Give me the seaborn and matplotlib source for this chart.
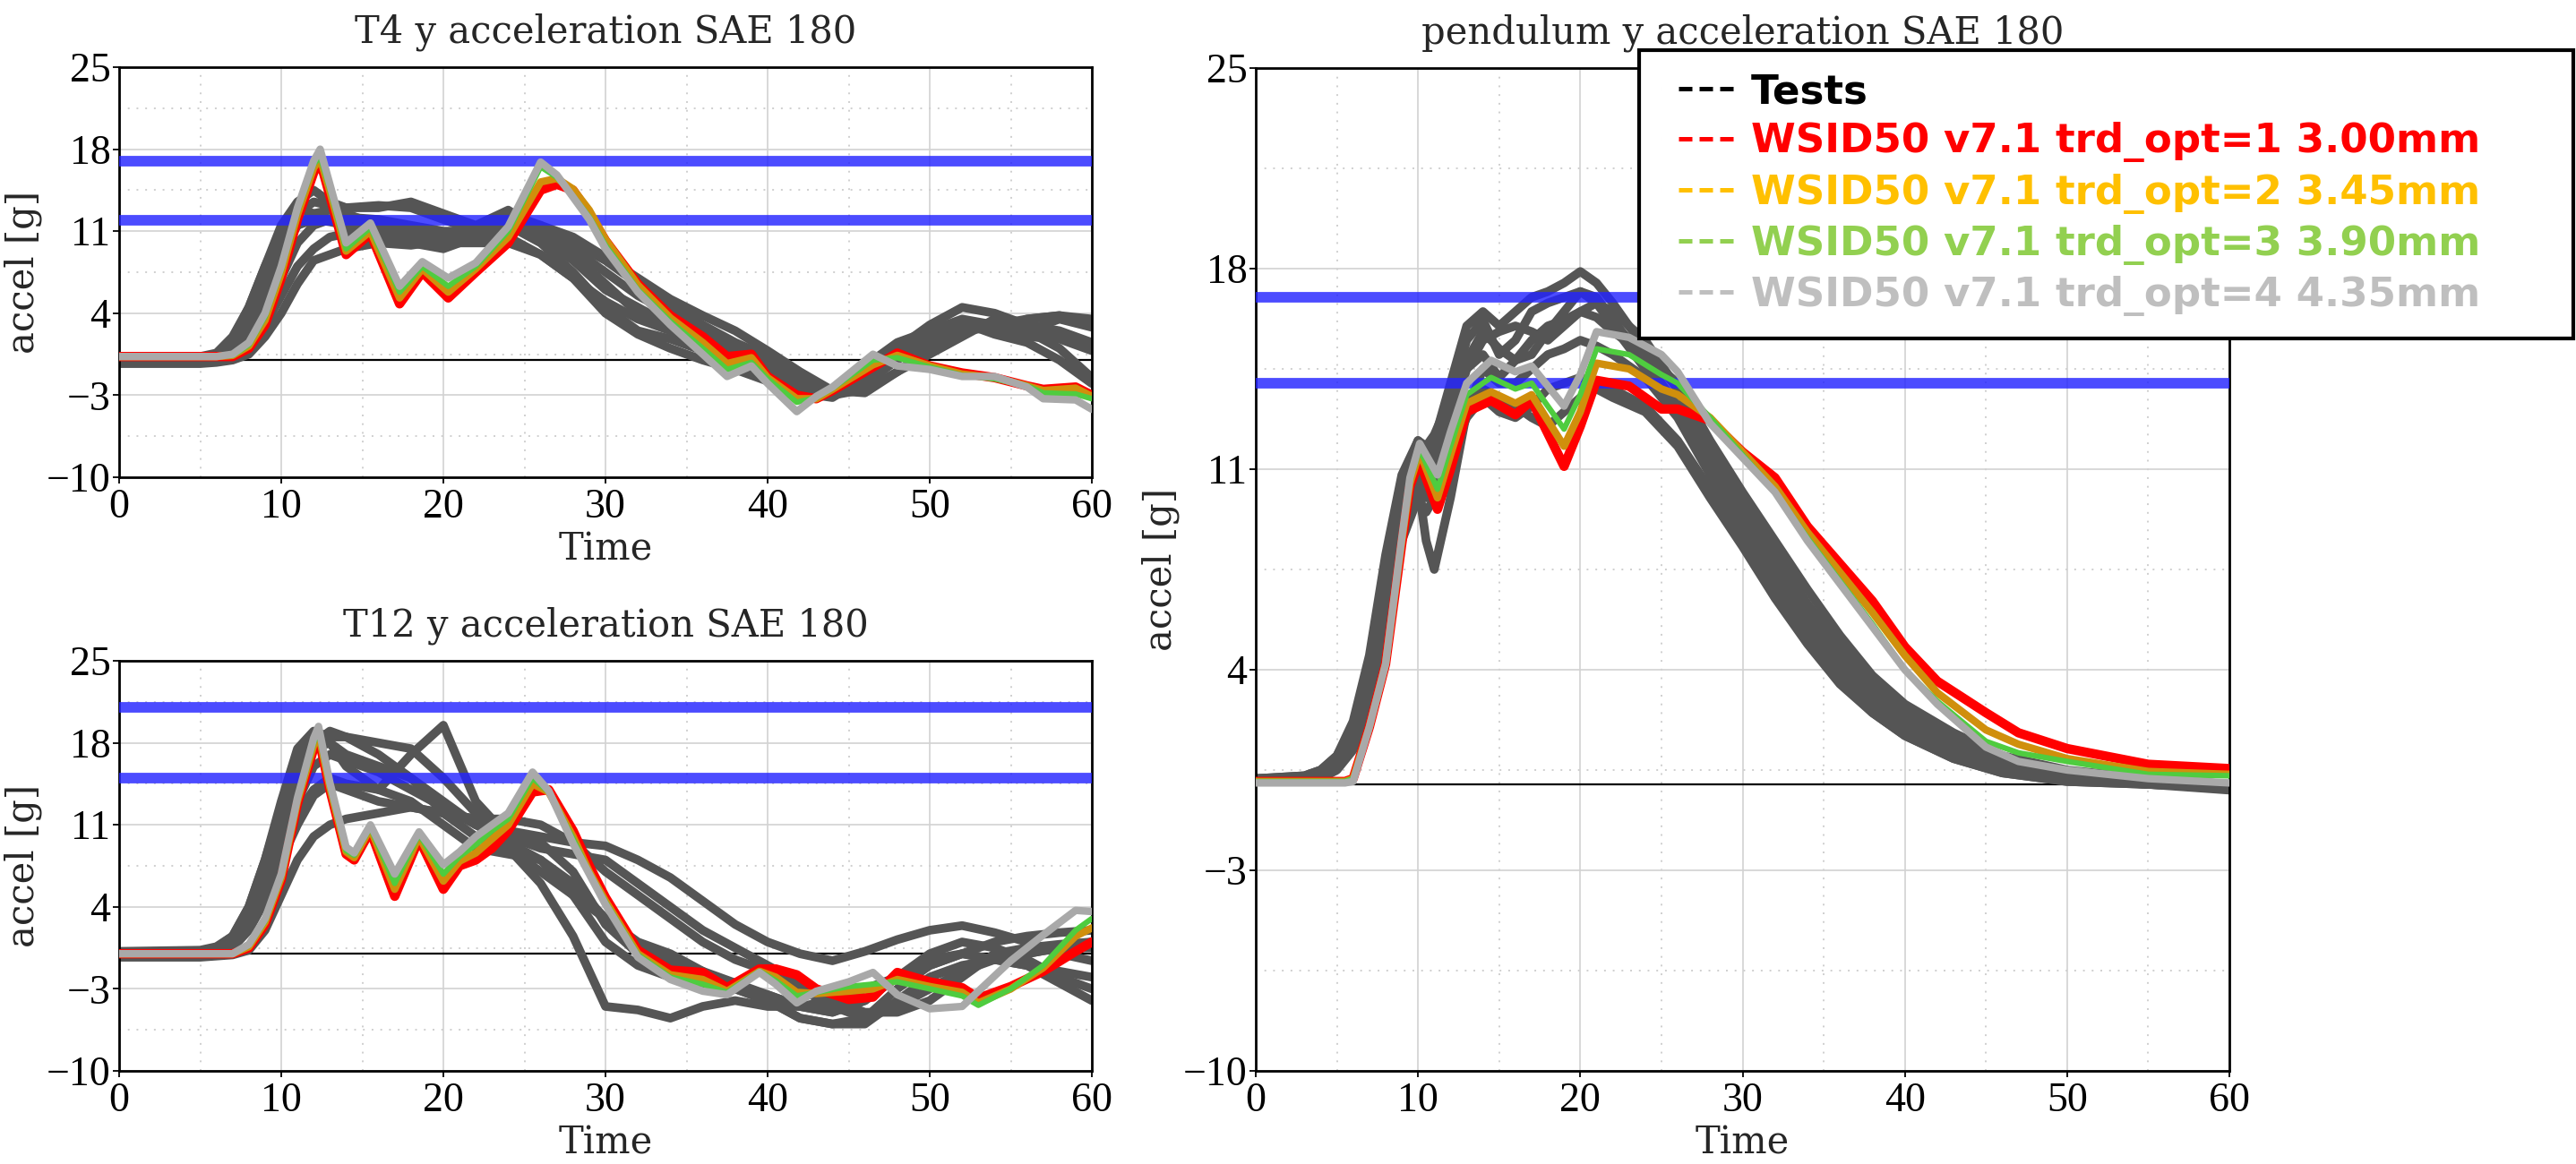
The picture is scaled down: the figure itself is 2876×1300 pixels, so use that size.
import numpy as np
import pandas as pd
import matplotlib.pyplot as plt
import seaborn as sns
from matplotlib.lines import Line2D
from matplotlib.ticker import MultipleLocator

# ---------------- data ----------------
x_ticks = [0, 10, 20, 30, 40, 50, 60]
y_ticks = [-10, -3, 4, 11, 18, 25]
y_minor = [-6.5, 0.5, 7.5, 14.5, 21.5]

legend_labels = ['Tests',
                 'WSID50 v7.1 trd_opt=1 3.00mm',
                 'WSID50 v7.1 trd_opt=2 3.45mm',
                 'WSID50 v7.1 trd_opt=3 3.90mm',
                 'WSID50 v7.1 trd_opt=4 4.35mm']

# time grid for the test curves of T4 / T12
t_test = [0, 5, 6, 7, 8, 9, 10, 11, 12, 13, 14, 16, 18, 20, 22, 24, 26, 28, 30, 32,
          34, 36, 38, 40, 42, 44, 46, 48, 50, 52, 54, 56, 58, 60]

# ---- T4 ----
t4_limits = [17, 11.9]
t4_tests = [
    [0.2, 0.3, 0.6, 2.0, 4.5, 8.0, 11.5, 13.5, 14.5, 13.5, 13.0, 13.2, 13.0, 12.0, 11.0, 11.5, 10.0, 7.5, 4.5, 2.5,
     1.8, 0.8, -0.5, -1.5, -2.6, -2.8, -1.0, 1.0, 3.0, 4.5, 4.0, 3.0, 2.5, 1.5],
    [0.1, 0.2, 0.4, 1.5, 3.5, 7.0, 10.5, 12.5, 13.5, 13.2, 13.0, 13.0, 13.5, 12.5, 11.5, 12.8, 11.0, 9.0, 6.5, 4.0,
     2.8, 1.5, 0.2, -1.0, -2.2, -2.5, -0.5, 1.5, 2.5, 3.5, 3.0, 2.5, 3.5, 2.8],
    [0.0, 0.1, 0.2, 0.8, 2.5, 5.5, 9.0, 11.5, 12.5, 12.8, 12.2, 12.0, 11.5, 11.0, 11.0, 12.5, 11.5, 9.5, 7.5, 5.5,
     4.0, 2.8, 1.2, -0.2, -1.8, -2.8, -1.8, 0.5, 2.0, 3.0, 2.5, 3.5, 3.8, 3.0],
    [0.0, 0.0, 0.1, 0.4, 1.5, 4.0, 7.0, 10.0, 11.5, 12.0, 11.5, 11.5, 11.0, 10.0, 10.5, 12.0, 11.5, 10.5, 8.8, 7.0,
     5.2, 3.8, 2.5, 0.8, -1.0, -2.6, -2.8, -1.0, 1.0, 2.5, 2.8, 2.5, 1.0, -1.5],
    [-0.2, -0.2, -0.1, 0.2, 1.0, 3.0, 5.5, 8.0, 9.5, 10.5, 10.8, 10.5, 10.0, 9.5, 10.5, 11.5, 11.0, 10.0, 8.5, 6.5,
     4.8, 3.0, 1.5, 0.3, -1.5, -2.7, -2.0, 0.0, 2.0, 3.2, 2.2, 1.5, 0.0, -2.0],
    [-0.3, -0.3, -0.2, 0.0, 0.5, 2.0, 4.0, 6.5, 8.5, 9.0, 9.5, 10.0, 9.8, 10.2, 10.5, 10.5, 9.0, 7.0, 5.0, 3.5,
     2.5, 1.5, 0.5, -0.8, -2.0, -3.0, -2.5, -1.0, 0.5, 2.0, 3.5, 3.0, 2.0, 1.0],
    [0.1, 0.2, 0.5, 1.8, 4.5, 8.0, 11.0, 13.0, 12.5, 12.0, 12.5, 11.5, 10.5, 10.0, 10.0, 10.0, 9.0, 7.0, 4.0, 2.2,
     1.0, 0.0, -0.8, -1.8, -2.8, -3.2, -1.5, 0.5, 2.5, 3.0, 2.5, 2.0, 1.8, 0.8],
    [0.0, 0.1, 0.3, 1.0, 3.0, 6.5, 9.5, 11.5, 12.0, 11.8, 11.5, 11.0, 10.5, 10.8, 11.0, 11.5, 10.5, 8.5, 6.0, 4.5,
     3.0, 2.0, 1.0, -0.5, -2.0, -2.5, -1.5, 0.2, 1.5, 2.5, 3.0, 3.5, 3.8, 3.5],
]
t4_time = [0, 6, 7, 8, 9, 10, 11, 12, 12.4, 13, 14, 15.5, 17.3, 18.7, 20.3, 22, 24, 26, 27, 28,
           29, 30, 32, 34, 36, 37.5, 39, 40, 41.8, 43, 44, 46.5, 48, 50, 52, 54, 56, 57, 59, 60]
t4_opt1 = [0.3, 0.3, 0.3, 1.0, 3.0, 7.0, 12.0, 16.0, 17.0, 14.0, 9.0, 10.8, 4.8, 7.5, 5.3, 7.5, 10.0, 14.5, 15.0, 14.5,
           12.5, 10.2, 6.5, 3.8, 2.0, 0.3, 0.5, -1.4, -3.0, -3.3, -2.6, -0.6, 0.6, -0.5, -1.1, -1.5, -2.2, -2.5, -2.3, -3.0]
t4_opt2 = [0.3, 0.3, 0.4, 1.2, 3.4, 7.4, 12.4, 16.4, 17.2, 14.4, 9.3, 11.0, 5.3, 7.8, 5.8, 7.8, 10.5, 15.2, 15.5, 14.6,
           12.8, 10.3, 6.4, 3.6, 1.5, -0.3, 0.2, -1.5, -3.3, -3.3, -2.5, -0.4, 0.4, -0.5, -1.2, -1.5, -2.2, -2.6, -2.4, -3.1]
t4_opt3 = [0.3, 0.3, 0.4, 1.3, 3.7, 7.7, 12.7, 16.7, 17.4, 14.6, 9.5, 11.3, 5.8, 8.0, 6.3, 8.0, 11.0, 16.5, 15.6, 14.0,
           12.2, 9.8, 6.0, 3.3, 1.0, -0.8, -0.2, -1.6, -3.6, -3.2, -2.4, 0.0, 0.2, -0.6, -1.3, -1.6, -2.2, -2.8, -2.9, -3.3]
t4_opt4 = [0.3, 0.3, 0.5, 1.5, 4.0, 8.0, 13.0, 17.0, 18.0, 15.0, 10.0, 11.7, 6.3, 8.4, 7.0, 8.3, 11.4, 16.9, 15.8, 13.9,
           12.0, 9.5, 5.8, 3.0, 0.5, -1.4, -0.5, -2.0, -4.4, -3.1, -2.3, 0.5, -0.5, -0.8, -1.4, -1.4, -2.3, -3.3, -3.4, -4.2]

# ---- T12 ----
t12_limits = [21, 15]
t12_tests = [
    [0.2, 0.3, 0.6, 1.5, 4, 8, 13, 17.5, 19, 18.5, 18.5, 18, 17.5, 15, 12, 9, 7, 5, 3, 1,
     0, -1.5, -3, -4, -5.5, -6, -5.5, -3, -1, 0, -0.5, -1, -2.5, -4],
    [0.0, 0.2, 0.5, 1.2, 3, 6, 10, 14, 17.5, 18, 16, 14, 17, 19.5, 13, 10, 9, 8.5, 8, 6,
     4, 2, 0.5, -1, -2.5, -4, -5, -5, -4, -2, 0, 0.5, 0.8, 1],
    [0, 0.1, 0.3, 0.8, 2, 4.5, 8, 11, 13.5, 14.5, 14, 13, 12.5, 12, 11.5, 10.5, 10, 9.5, 9.2, 8,
     6.5, 4.5, 2.5, 1.0, 0.0, -0.6, 0.2, 1.2, 2.0, 2.4, 1.8, 1.0, 0.0, -0.6],
    [0, 0.1, 0.4, 1.2, 3.5, 7, 11, 15, 18, 19, 18.5, 17, 15, 12, 10, 9, 6, 1.5, -4.5, -4.8,
     -5.5, -4.5, -4, -4.5, -4.5, -4, -3, -2, -1, 0, 1, 1.5, 1.8, 2],
    [0, 0, 0.2, 0.8, 2.5, 5.5, 9, 12, 14, 15, 14.5, 14, 13, 11, 9, 8.5, 8, 5, 1, -1,
     -2, -2.5, -3, -4, -5.5, -6, -6, -4, -2, -1, -0.5, 0, 0.5, 1],
    [-0.2, -0.2, 0, 0.5, 2, 5, 9, 13, 16, 17, 16.5, 15.5, 14, 12.5, 11, 10.5, 9.5, 7, 2.5, 0,
     -1, -2, -3, -3.5, -4.5, -5, -4, -2, -0.5, 0, -0.5, -1, -1.5, -2],
    [-0.3, -0.3, -0.2, -0.1, 0.3, 2, 5, 8, 10, 11, 11.5, 12, 12.5, 12, 11.5, 11.5, 11, 9.5, 7, 5,
     3, 1, -0.5, -1.5, -3, -4.5, -5.5, -4.5, -3, -1.5, -0.5, 0, 0.5, 0.5],
    [0.1, 0.2, 0.5, 1.5, 4, 8, 12.5, 16.5, 18.5, 18, 17, 16, 15, 13, 11, 9.5, 8, 6, 3, 0.5,
     -0.5, -1.5, -2.5, -3.5, -4.5, -5, -4, -2, 0, 1, 0.5, -0.5, -2, -3],
]
t12_time = [0, 7, 8, 9, 10, 11, 12, 12.3, 13, 14, 14.5, 15.5, 17, 18.5, 20, 21, 22, 23, 24, 25.5,
            26.5, 28, 29, 30, 32, 34, 36, 37.5, 39.5, 40.5, 41.8, 43, 45, 46.5, 48, 50, 52, 53, 55, 57, 59, 60]
t12_opt1 = [0.0, 0.0, 0.5, 2.5, 6.3, 12.8, 17.5, 18.5, 14.0, 8.5, 8.0, 10.5, 4.9, 9.8, 5.5, 7.5, 8.0, 9.0, 10.5, 13.8,
            14.0, 10.5, 7.5, 4.8, 0.3, -1.4, -1.6, -2.9, -1.3, -1.3, -1.8, -3.0, -3.9, -3.7, -1.6, -2.4, -2.9, -3.8, -2.8, -1.5,
            0.2, 1.0]
t12_opt2 = [0.0, 0.0, 0.6, 2.7, 6.5, 13.0, 17.8, 18.8, 14.2, 8.7, 8.2, 10.7, 5.5, 10.0, 6.2, 7.9, 8.6, 9.8, 11.0, 14.5,
            13.8, 10.0, 7.0, 4.5, 0.0, -1.8, -2.2, -3.2, -1.5, -2.0, -3.3, -3.4, -3.2, -3.0, -2.2, -2.8, -3.3, -4.2, -3.0, -1.2,
            1.5, 2.2]
t12_opt3 = [0.0, 0.0, 0.7, 2.8, 6.6, 13.1, 18.0, 19.0, 14.3, 8.8, 8.4, 10.8, 6.0, 10.2, 6.8, 8.3, 9.3, 10.5, 11.5, 15.0,
            13.8, 9.8, 6.9, 4.4, -0.1, -2.0, -2.6, -3.3, -1.5, -2.3, -3.6, -3.3, -2.8, -2.6, -2.4, -3.0, -3.6, -4.4, -3.0, -1.0,
            2.0, 3.0]
t12_opt4 = [0.0, 0.0, 0.8, 3.0, 6.8, 13.3, 18.4, 19.4, 14.6, 9.1, 8.6, 11.0, 6.8, 10.4, 7.6, 8.7, 10.0, 11.0, 12.0, 15.5,
            13.9, 9.4, 6.8, 4.2, -0.3, -2.2, -3.2, -3.5, -1.6, -2.6, -4.2, -3.2, -2.4, -1.6, -3.5, -4.7, -4.5, -3.2, -0.6, 1.6,
            3.7, 3.6]

# ---- pendulum ----
pend_limits = [17, 14]
pend_test_time = [0, 3, 4, 5, 6, 7, 8, 9, 10, 10.5, 11, 12, 13, 14, 15, 16, 17, 18, 19, 20,
                  21, 22, 24, 26, 28, 30, 32, 34, 36, 38, 40, 43, 46, 50, 55, 60]
pend_tests = [
    [0.2, 0.3, 0.5, 1.0, 2.0, 4.0, 7.5, 10.5, 12.0, 11.5, 12.0, 14.0, 16.0, 16.5, 16.0, 16.5, 17.0, 17.2, 17.5, 17.9,
     17.5, 16.8, 15.2, 13.8, 11.8, 9.8, 8.0, 6.3, 4.8, 3.6, 2.6, 1.6, 0.9, 0.4, 0.2, 0.0],
    [0.2, 0.2, 0.4, 0.8, 1.8, 3.8, 7.0, 10.0, 11.5, 11.0, 11.5, 13.5, 15.5, 16.2, 15.0, 15.5, 16.5, 16.8, 17.0, 17.2,
     16.8, 16.0, 14.5, 13.0, 11.0, 9.0, 7.2, 5.6, 4.2, 3.0, 2.1, 1.2, 0.6, 0.2, 0.0, -0.1],
    [0.1, 0.2, 0.3, 0.7, 1.5, 3.5, 6.5, 9.5, 11.0, 10.0, 10.5, 12.5, 14.5, 15.0, 14.2, 14.8, 15.5, 16.0, 16.2, 16.5,
     16.3, 15.8, 15.0, 14.0, 12.0, 10.2, 8.5, 6.8, 5.2, 3.8, 2.8, 1.8, 1.0, 0.5, 0.2, 0.0],
    [0.1, 0.2, 0.3, 0.8, 1.6, 3.2, 6.0, 9.0, 10.5, 8.5, 7.5, 10.0, 13.0, 14.5, 14.0, 14.0, 14.5, 15.0, 15.2, 15.5,
     15.3, 15.0, 14.2, 12.8, 10.8, 8.8, 7.0, 5.3, 3.9, 2.8, 1.9, 1.1, 0.5, 0.2, 0.0, -0.1],
    [0.1, 0.1, 0.2, 0.5, 1.2, 2.8, 5.5, 8.5, 10.0, 9.5, 10.0, 11.5, 12.8, 13.5, 13.0, 12.8, 13.2, 13.8, 14.0, 14.2,
     14.0, 13.8, 13.2, 12.0, 10.3, 8.6, 6.8, 5.0, 3.6, 2.5, 1.7, 0.9, 0.4, 0.1, 0.0, -0.2],
    [0.2, 0.3, 0.5, 1.0, 2.2, 4.5, 8.0, 10.8, 12.0, 11.8, 12.2, 13.5, 14.5, 15.5, 15.8, 16.0, 15.8, 15.5, 16.0, 16.5,
     16.8, 16.5, 15.5, 13.8, 11.6, 9.5, 7.7, 6.0, 4.5, 3.3, 2.3, 1.4, 0.7, 0.3, 0.1, 0.0],
    [0.1, 0.1, 0.3, 0.6, 1.4, 3.0, 5.8, 8.8, 10.8, 10.5, 11.0, 12.0, 13.0, 13.8, 13.5, 13.2, 12.8, 12.5, 13.0, 13.5,
     13.8, 13.5, 13.0, 11.8, 10.0, 8.3, 6.5, 4.9, 3.5, 2.5, 1.7, 0.9, 0.4, 0.1, 0.0, -0.1],
    [0.2, 0.2, 0.4, 0.9, 2.0, 4.2, 7.8, 10.2, 11.2, 10.8, 11.2, 12.8, 14.8, 15.8, 15.2, 14.8, 15.0, 15.8, 16.5, 17.2,
     17.0, 16.2, 14.8, 13.2, 11.3, 9.3, 7.5, 5.8, 4.3, 3.1, 2.2, 1.3, 0.7, 0.3, 0.1, 0.0],
]
pend_time = [0, 5.5, 6, 7, 8, 9, 9.5, 10.1, 11.2, 12, 13, 14.5, 16, 17, 19, 20, 21, 23, 25, 26,
             28, 30, 32, 34, 36, 38, 40, 42, 45, 47, 50, 55, 60]
pend_opt1 = [0.1, 0.1, 0.2, 2.0, 4.2, 8.4, 10.4, 11.3, 9.6, 11.0, 13.0, 13.4, 12.9, 13.4, 11.1, 12.5, 14.1, 13.9, 13.1, 13.1,
             12.7, 11.6, 10.7, 9.0, 7.7, 6.4, 4.8, 3.6, 2.5, 1.8, 1.25, 0.7, 0.55]
pend_opt2 = [0.1, 0.1, 0.2, 2.0, 4.2, 8.5, 10.5, 11.6, 10.0, 11.5, 13.3, 13.7, 13.3, 13.6, 11.8, 13.0, 14.7, 14.5, 13.8, 13.6,
             12.8, 11.6, 10.4, 8.8, 7.4, 6.0, 4.5, 3.2, 1.9, 1.4, 0.9, 0.45, 0.35]
pend_opt3 = [0.1, 0.1, 0.2, 2.0, 4.2, 8.5, 10.6, 11.7, 10.3, 11.8, 13.6, 14.2, 13.8, 14.0, 12.4, 13.6, 15.2, 15.0, 14.3, 14.0,
             12.8, 11.5, 10.2, 8.6, 7.1, 5.6, 4.0, 2.9, 1.5, 1.1, 0.8, 0.35, 0.3]
pend_opt4 = [0.05, 0.05, 0.1, 2.0, 4.2, 8.6, 10.7, 11.9, 10.8, 12.3, 14.0, 14.8, 14.4, 14.6, 13.2, 14.3, 15.8, 15.6, 15.0, 14.4,
             12.6, 11.4, 10.2, 8.5, 7.0, 5.5, 4.0, 2.8, 1.3, 0.8, 0.5, 0.2, 0.05]

# ---------------- styling ----------------
test_color = '#555555'
model_colors = ['#ff0000', '#d08f0c', '#4fcc3f', '#a9a9a9']
model_widths = [7.5, 6.0, 4.5, 6.0]
legend_colors = ['#000000', '#ff0000', '#ffc000', '#92d050', '#bfbfbf']
band_color = '#2424ff'

sns.set_theme(style='white')
plt.rcParams['font.family'] = ['DejaVu Serif']

W, H = 2876, 1300
fig = plt.figure(figsize=(W / 100, H / 100), dpi=100)
ax_t4 = fig.add_axes([133 / W, 1 - 533 / H, 1086 / W, 458 / H])
ax_t12 = fig.add_axes([133 / W, 1 - 1196 / H, 1086 / W, 458 / H])
ax_pend = fig.add_axes([1402 / W, 1 - 1196 / H, 1087 / W, 1120 / H])


def draw_panel(ax, tt, tests, tm, models, limits, title, ylab_x):
    ax.axhline(0, color='black', lw=1.6, zorder=1.5)
    for vals in tests:
        sns.lineplot(x=tt, y=vals, ax=ax, color=test_color, lw=7, estimator=None,
                     zorder=2, solid_joinstyle='round', solid_capstyle='round')
    for lim in limits:
        ax.axhline(lim, color=band_color, lw=8.5, alpha=0.82, zorder=3)
    for vals, c, w in zip(models, model_colors, model_widths):
        sns.lineplot(x=tm, y=vals, ax=ax, color=c, lw=w, estimator=None,
                     zorder=4, solid_joinstyle='round', solid_capstyle='round')

    ax.set_xlim(0, 60)
    ax.set_ylim(-10, 25)
    ax.set_xticks(x_ticks)
    ax.set_yticks(y_ticks)
    ax.xaxis.set_minor_locator(MultipleLocator(5))
    ax.set_yticks(y_minor, minor=True)
    ax.grid(which='major', color='#d2d2d2', lw=1.2, ls='-')
    ax.grid(which='minor', color='#cfcfcf', lw=1.4, ls=(0, (1, 4)))
    ax.set_axisbelow(True)
    ax.tick_params(which='major', direction='out', length=5, width=1.3,
                   labelsize=33, pad=2, colors='black', bottom=True, left=True,
                   labelfontfamily='Liberation Serif')
    ax.tick_params(axis='x', which='major', pad=4)
    ax.tick_params(which='minor', length=0)
    for s in ax.spines.values():
        s.set_visible(True)
        s.set_color('black')
        s.set_linewidth(2)
    ax.set_title(title, fontsize=30, pad=20)
    ax.set_xlabel('Time', fontsize=30, labelpad=3)
    ax.set_ylabel('accel [g]', fontsize=30)
    ax.yaxis.set_label_coords(ylab_x, 0.5)


draw_panel(ax_t4, t_test, t4_tests, t4_time, [t4_opt1, t4_opt2, t4_opt3, t4_opt4],
           t4_limits, 'T4 y acceleration SAE 180', -0.079)
draw_panel(ax_t12, t_test, t12_tests, t12_time, [t12_opt1, t12_opt2, t12_opt3, t12_opt4],
           t12_limits, 'T12 y acceleration SAE 180', -0.079)
draw_panel(ax_pend, pend_test_time, pend_tests, pend_time, [pend_opt1, pend_opt2, pend_opt3, pend_opt4],
           pend_limits, 'pendulum y acceleration SAE 180', -0.078)

# legend: "---" handle preceded by a small blank gap
handles = [Line2D([], [], color=c, lw=3.6, ls=(0, (0.001, 3.8, 3, 1.6, 3, 1.6, 3, 6)))
           for c in legend_colors]
leg = fig.legend(handles, legend_labels, loc='upper left',
                 bbox_to_anchor=(1830 / W, 1 - 375 / H, 1043 / W, 319 / H), mode='expand',
                 borderaxespad=0, frameon=True, fancybox=False, framealpha=1,
                 edgecolor='black', handlelength=1.78, handletextpad=0.42,
                 borderpad=0.56, labelspacing=0.27, labelcolor=legend_colors,
                 prop={'family': 'DejaVu Sans', 'weight': 'bold', 'size': 32.5})
leg.get_frame().set_linewidth(3)
leg.set_zorder(10)

fig.savefig('out.png', dpi=100, facecolor='white')
